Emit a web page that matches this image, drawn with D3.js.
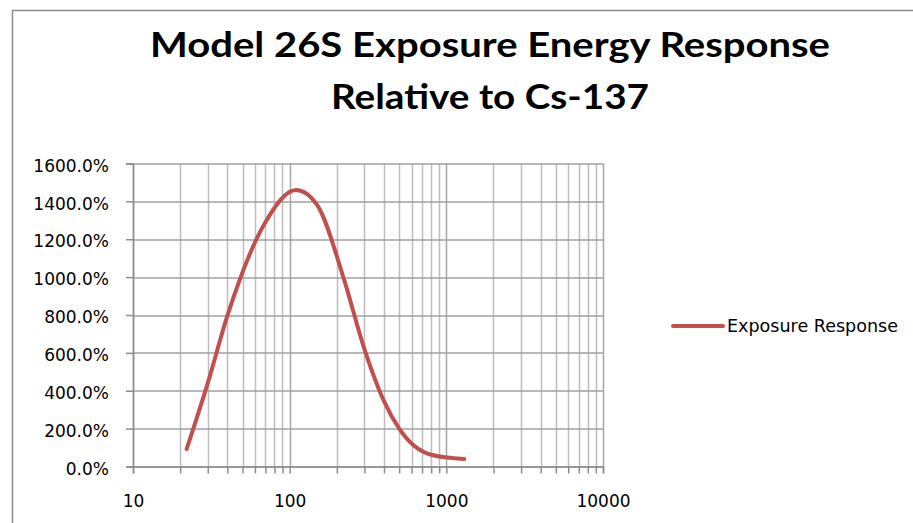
<!DOCTYPE html>
<html>
  <head>
    <meta charset="utf-8">
    <style>
      html, body {
        margin: 0px;
        padding: 0px;
        background: #fff;
      }
      svg {
        display: block;
      }
      .tick text {
        font: 17px "DejaVu Sans", sans-serif;
        fill: #000;
      }
    </style>
  </head>
  <body>
    <svg id="chart" width="913" height="523"></svg>
    <script src="https://cdnjs.cloudflare.com/ajax/libs/d3/7.8.5/d3.min.js"></script>
    <script>
      // energy (keV) vs exposure response
      const energyKeV = [22, 30, 40, 70, 110, 150, 220, 300, 400, 500, 800, 1300];
      const responsePct = [92, 440, 795, 1290, 1460, 1380, 1000, 620, 345, 200, 62, 39];
      const yTicks = [0, 200, 400, 600, 800, 1000, 1200, 1400, 1600];
      const xDecades = [10, 100, 1000, 10000];
      const titleLines = ['Model 26S Exposure Energy Response', 'Relative to Cs-137'];
      const seriesName = 'Exposure Response';

      const svg = d3.select('#chart');
      const margin = {left: 133, top: 163.5, right: 913 - 603, bottom: 523 - 466.5};
      const width = 913 - margin.left - margin.right;
      const height = 523 - margin.top - margin.bottom;

      // outer chart frame (left + top only visible)
      svg.append('path')
        .attr('d', 'M12.5,523 L12.5,10.5 L913,10.5')
        .attr('fill', 'none')
        .attr('stroke', '#8c8c8c')
        .attr('stroke-width', 1.5);

      // title
      const title = svg.append('g')
        .attr('font-family', 'Lato, "Open Sans", sans-serif')
        .attr('font-weight', 'bold')
        .attr('font-size', 35)
        .attr('fill', '#000')
        .attr('text-anchor', 'middle');
      title.append('text').attr('x', 490).attr('y', 57)
        .attr('textLength', 680).attr('lengthAdjust', 'spacingAndGlyphs')
        .text(titleLines[0]);
      title.append('text').attr('x', 490).attr('y', 109)
        .attr('textLength', 318).attr('lengthAdjust', 'spacingAndGlyphs')
        .text(titleLines[1]);

      const g = svg.append('g').attr('transform', `translate(${margin.left},${margin.top})`);

      const x = d3.scaleLog().domain([10, 10000]).range([0, width]);
      const y = d3.scaleLinear().domain([0, 1600]).range([height, 0]);

      // all log ticks 10..10000
      const xTicks = [];
      for (let d = 10; d < 10000; d *= 10) {
        for (let k = 1; k < 10; k++) xTicks.push(d * k);
      }
      xTicks.push(10000);

      // vertical gridlines
      g.append('g')
        .selectAll('line')
        .data(xTicks)
        .join('line')
        .attr('x1', d => Math.round(x(d)) + 0.5)
        .attr('x2', d => Math.round(x(d)) + 0.5)
        .attr('y1', 0)
        .attr('y2', height)
        .attr('stroke', d => xDecades.includes(d) ? '#a6a6a6' : '#bdbdbd')
        .attr('stroke-width', 1.5);

      // horizontal gridlines
      g.append('g')
        .selectAll('line')
        .data(yTicks)
        .join('line')
        .attr('x1', 0)
        .attr('x2', width)
        .attr('y1', d => Math.round(y(d)) + 0.5)
        .attr('y2', d => Math.round(y(d)) + 0.5)
        .attr('stroke', '#a0a0a0')
        .attr('stroke-width', 1.5);

      const yAxis = g.append('g')
        .call(d3.axisLeft(y).tickValues(yTicks).tickSize(7).tickPadding(17)
          .tickFormat(d => d.toFixed(1) + '%'));
      yAxis.selectAll('.tick text').attr('dy', '0.45em');

      const xAxis = g.append('g')
        .attr('transform', `translate(0,${height})`)
        .call(d3.axisBottom(x).tickValues(xTicks).tickSize(7).tickPadding(21)
          .tickFormat(d => xDecades.includes(d) ? d : ''));

      g.selectAll('.domain').attr('stroke', '#8c8c8c').attr('stroke-width', 1.5);
      g.selectAll('.tick line').attr('stroke', '#8c8c8c').attr('stroke-width', 1.5);

      // the response curve
      const line = d3.line()
        .x((d, i) => x(energyKeV[i]))
        .y(d => y(d))
        .curve(d3.curveMonotoneX);

      g.append('path')
        .datum(responsePct)
        .attr('d', line)
        .attr('fill', 'none')
        .attr('stroke', '#c0504d')
        .attr('stroke-width', 4)
        .attr('stroke-linecap', 'round')
        .attr('stroke-linejoin', 'round');

      // legend
      const legend = svg.append('g').attr('transform', 'translate(673,326)');
      legend.append('line')
        .attr('x1', 0).attr('x2', 50)
        .attr('stroke', '#c0504d')
        .attr('stroke-width', 4)
        .attr('stroke-linecap', 'round');
      legend.append('text')
        .attr('x', 54)
        .attr('y', 6)
        .attr('font-family', '"DejaVu Sans", sans-serif')
        .attr('font-size', 17)
        .attr('fill', '#000')
        .attr('textLength', 171)
        .attr('lengthAdjust', 'spacingAndGlyphs')
        .text(seriesName);
    </script>
  </body>
</html>
